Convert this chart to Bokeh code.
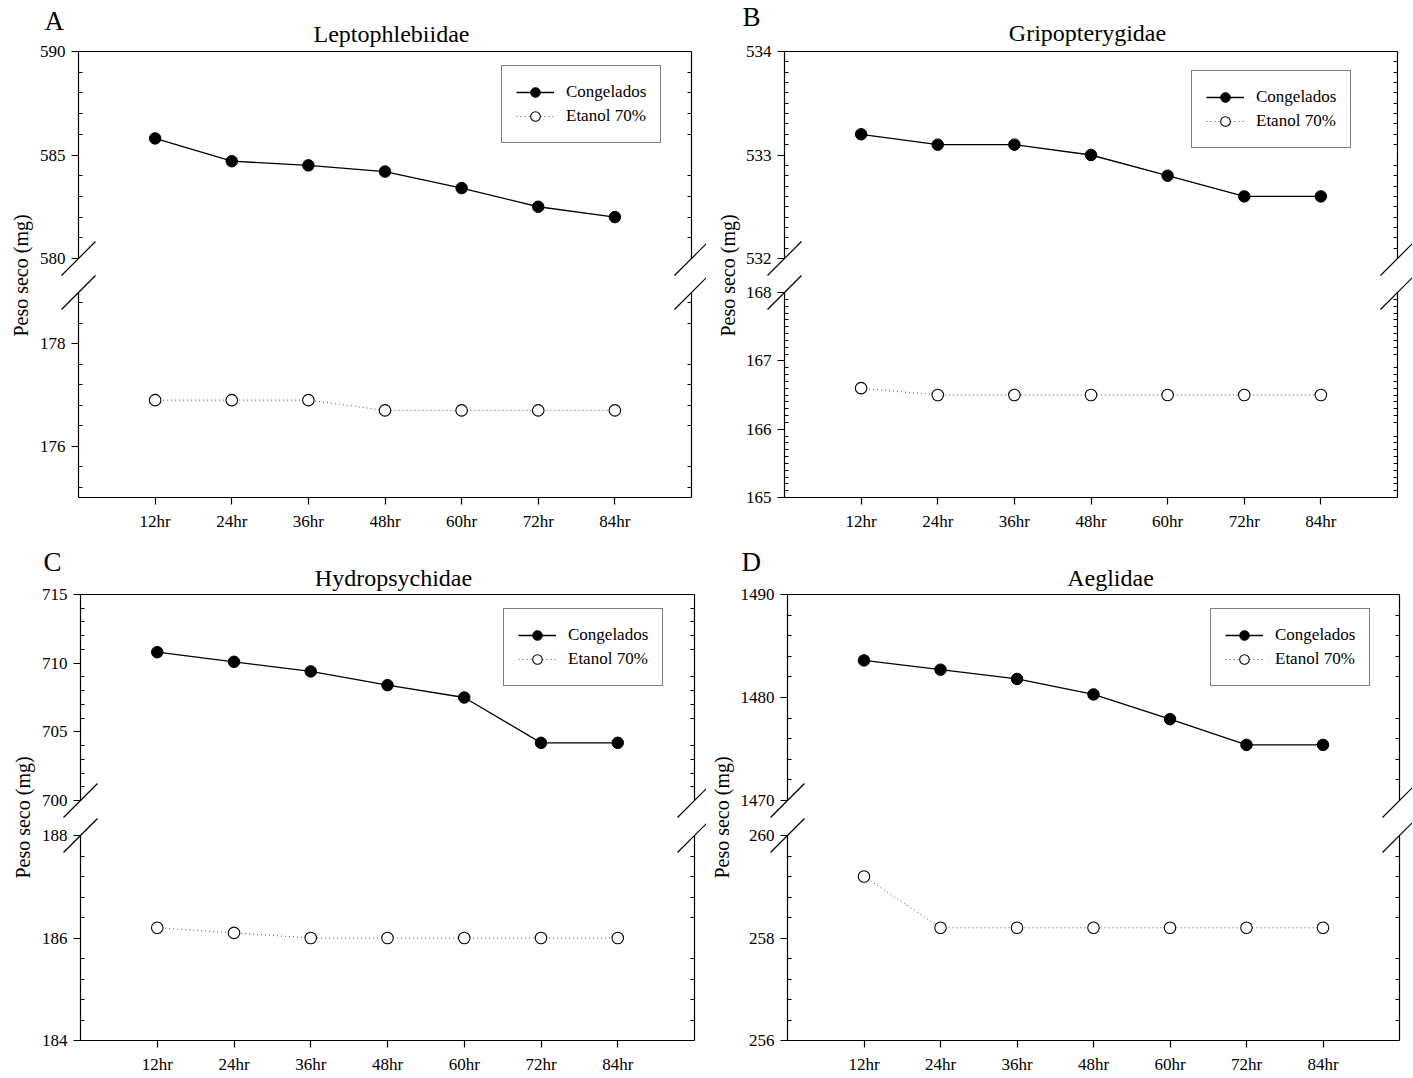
import numpy as np
from bokeh.plotting import figure
from bokeh.models import (Range1d, LinearAxis, FixedTicker, Legend, LegendItem, Label, Arrow)
from bokeh.layouts import row, column
from bokeh.embed import file_html
from bokeh.resources import INLINE

# ---------------- data ----------------
times = ["12hr", "24hr", "36hr", "48hr", "60hr", "72hr", "84hr"]
series_names = ["Congelados", "Etanol 70%"]
y_label = "Peso seco (mg)"

a_letter, a_title = "A", "Leptophlebiidae"
a_congelados = [585.8, 584.7, 584.5, 584.2, 583.4, 582.5, 582.0]
a_etanol = [176.9, 176.9, 176.9, 176.7, 176.7, 176.7, 176.7]
a_upper_lim, a_upper_ticks, a_upper_step = (580, 590), [580, 585, 590], 1
a_lower_lim, a_lower_ticks, a_lower_step = (175, 179), [176, 178], 0.4

b_letter, b_title = "B", "Gripopterygidae"
b_congelados = [533.2, 533.1, 533.1, 533.0, 532.8, 532.6, 532.6]
b_etanol = [166.6, 166.5, 166.5, 166.5, 166.5, 166.5, 166.5]
b_upper_lim, b_upper_ticks, b_upper_step = (532, 534), [532, 533, 534], 0.1
b_lower_lim, b_lower_ticks, b_lower_step = (165, 168), [165, 166, 167, 168], 0.1

c_letter, c_title = "C", "Hydropsychidae"
c_congelados = [710.8, 710.1, 709.4, 708.4, 707.5, 704.2, 704.2]
c_etanol = [186.2, 186.1, 186.0, 186.0, 186.0, 186.0, 186.0]
c_upper_lim, c_upper_ticks, c_upper_step = (700, 715), [700, 705, 710, 715], 1
c_lower_lim, c_lower_ticks, c_lower_step = (184, 188), [184, 186, 188], 0.4

d_letter, d_title = "D", "Aeglidae"
d_congelados = [1483.6, 1482.7, 1481.8, 1480.3, 1477.9, 1475.4, 1475.4]
d_etanol = [259.2, 258.2, 258.2, 258.2, 258.2, 258.2, 258.2]
d_upper_lim, d_upper_ticks, d_upper_step = (1470, 1490), [1470, 1480, 1490], 2
d_lower_lim, d_lower_ticks, d_lower_step = (256, 260), [256, 258, 260], 0.4

# ---------------- style ----------------
FONT = "Liberation Serif"
LW = 1.2
SL = 17   # half length of the break slashes (px)


def minors(lim, majors, step):
    base = majors[0]
    out = []
    for k in range(-300, 400):
        m = round(base + k * step, 4)
        if lim[0] - 1e-9 <= m <= lim[1] + 1e-9 and all(abs(m - t) > 1e-6 for t in majors):
            out.append(m)
    return out


def style_axis(ax):
    ax.axis_line_color = "black"
    ax.axis_line_width = LW
    ax.major_tick_line_color = "black"
    ax.major_tick_line_width = LW
    ax.minor_tick_line_color = "black"
    ax.minor_tick_line_width = 1
    ax.major_label_text_font = FONT
    ax.major_label_text_font_size = "17px"
    ax.major_label_text_color = "black"


def make_panel(letter, title, cong, etan,
               up_lim, up_ticks, up_step, lo_lim, lo_ticks, lo_step,
               W, H, axL, axR, up_top, up_bot, lo_top, lo_bot,
               title_xy, letter_xy, ylab_xy, leg_lb):
    n = len(times)
    xs = list(range(1, n + 1))
    xmax = n + 1
    kx = xmax / (axR - axL)
    ku = (up_lim[1] - up_lim[0]) / (up_bot - up_top)
    kl = (lo_lim[1] - lo_lim[0]) / (lo_bot - lo_top)

    def X(px):
        return (px - axL) * kx

    def YU(py):
        return up_lim[0] + (up_bot - py) * ku

    def YL(py):
        return lo_lim[0] + (lo_bot - py) * kl

    p = figure(width=W, height=H, x_range=Range1d(X(0), X(W)), y_range=Range1d(YL(H), YL(0)),
               x_axis_location=None, y_axis_location=None,
               toolbar_location=None, output_backend="svg", min_border=0)
    p.extra_y_ranges = {"upper": Range1d(YU(H), YU(0))}
    p.outline_line_color = None
    p.grid.visible = False
    p.background_fill_color = "white"
    p.border_fill_color = "white"

    # y axes of both segments (left with labels, right with inner minor ticks)
    for lim, majors, step, rname in [(up_lim, up_ticks, up_step, "upper"),
                                     (lo_lim, lo_ticks, lo_step, "default")]:
        mn = minors(lim, majors, step)
        la = LinearAxis(y_range_name=rname, fixed_location=0, bounds=lim,
                        ticker=FixedTicker(ticks=majors, minor_ticks=mn))
        style_axis(la)
        la.major_tick_out, la.major_tick_in = 7, 0
        la.minor_tick_out, la.minor_tick_in = 0, 4
        la.major_label_standoff = 6
        p.add_layout(la, "left")
        ra = LinearAxis(y_range_name=rname, fixed_location=xmax, bounds=lim,
                        ticker=FixedTicker(ticks=[], minor_ticks=mn))
        style_axis(ra)
        ra.major_tick_out, ra.major_tick_in = 0, 0
        ra.minor_tick_out, ra.minor_tick_in = 0, 4
        p.add_layout(ra, "right")

    # top frame line
    ta = LinearAxis(y_range_name="upper", fixed_location=up_lim[1], bounds=(0, xmax),
                    ticker=FixedTicker(ticks=[], minor_ticks=[]))
    style_axis(ta)
    ta.major_tick_out = ta.major_tick_in = ta.minor_tick_out = ta.minor_tick_in = 0
    p.add_layout(ta, "above")

    # x axis
    xa = LinearAxis(fixed_location=lo_lim[0], bounds=(0, xmax),
                    ticker=FixedTicker(ticks=xs, minor_ticks=[]),
                    major_label_overrides={x: t for x, t in zip(xs, times)})
    style_axis(xa)
    xa.major_tick_out, xa.major_tick_in = 7, 0
    xa.minor_tick_out = xa.minor_tick_in = 0
    xa.major_label_standoff = 7
    p.add_layout(xa, "below")

    # series
    l1 = p.line(xs, cong, y_range_name="upper", line_color="black", line_width=1.3)
    s1 = p.scatter(xs, cong, y_range_name="upper", marker="circle", size=11.5,
                   fill_color="black", line_color="black")
    l2 = p.line(xs, etan, line_color="#555555", line_width=1, line_dash="1 3")
    s2 = p.scatter(xs, etan, marker="circle", size=11.5, fill_color="white",
                   line_color="black", line_width=1.1)

    # axis break marks
    for xb in (0, xmax):
        p.add_layout(Arrow(end=None, y_range_name="upper",
                           x_start=xb - SL * kx, y_start=up_lim[0] - SL * ku,
                           x_end=xb + SL * kx, y_end=up_lim[0] + SL * ku,
                           line_color="black", line_width=LW))
        p.add_layout(Arrow(end=None,
                           x_start=xb - SL * kx, y_start=lo_lim[1] - SL * kl,
                           x_end=xb + SL * kx, y_end=lo_lim[1] + SL * kl,
                           line_color="black", line_width=LW))

    # texts (baseline offsets corrected for the renderer)
    p.add_layout(Label(x=X(title_xy[0]), y=YU(title_xy[1] - 10), y_range_name="upper", text=title,
                       text_align="center", text_baseline="alphabetic",
                       text_font=FONT, text_font_size="24px", text_color="black"))
    p.add_layout(Label(x=X(letter_xy[0]), y=YU(letter_xy[1] - 12), y_range_name="upper", text=letter,
                       text_align="left", text_baseline="alphabetic",
                       text_font=FONT, text_font_size="27px", text_color="black"))
    p.add_layout(Label(x=X(ylab_xy[0]), y=YL(ylab_xy[1]), text=y_label, angle=np.pi / 2,
                       text_align="center", text_baseline="middle",
                       text_font=FONT, text_font_size="20px", text_color="black"))

    legend = Legend(items=[LegendItem(label=series_names[0], renderers=[l1, s1]),
                           LegendItem(label=series_names[1], renderers=[l2, s2])],
                    location=(leg_lb[0], H - leg_lb[1]), margin=0, padding=14, spacing=-1,
                    glyph_width=38, glyph_height=24, label_height=20, label_standoff=12,
                    label_text_font=FONT, label_text_font_size="17px", label_text_color="black",
                    border_line_color="black", border_line_width=1,
                    background_fill_color="white", background_fill_alpha=1)
    p.add_layout(legend)
    return p


pa = make_panel(a_letter, a_title, a_congelados, a_etanol,
                a_upper_lim, a_upper_ticks, a_upper_step, a_lower_lim, a_lower_ticks, a_lower_step,
                706, 540, 78, 691, 51, 258, 292, 497,
                (391, 43), (44, 32), (20, 275), (501, 143))
pb = make_panel(b_letter, b_title, b_congelados, b_etanol,
                b_upper_lim, b_upper_ticks, b_upper_step, b_lower_lim, b_lower_ticks, b_lower_step,
                706, 540, 78, 691, 51, 258, 292, 497,
                (381, 42), (36, 28), (21, 275), (485, 148))
pc = make_panel(c_letter, c_title, c_congelados, c_etanol,
                c_upper_lim, c_upper_ticks, c_upper_step, c_lower_lim, c_lower_ticks, c_lower_step,
                706, 536, 80, 694, 54, 260, 295, 500,
                (393, 47), (43, 33), (22, 277), (503, 146))
pd = make_panel(d_letter, d_title, d_congelados, d_etanol,
                d_upper_lim, d_upper_ticks, d_upper_step, d_lower_lim, d_lower_ticks, d_lower_step,
                706, 536, 81, 693, 54, 260, 295, 500,
                (404, 47), (35, 33), (15, 277), (504, 146))

layout = column(row(pa, pb, spacing=0), row(pc, pd, spacing=0), spacing=0)

open("out.html", "w").write(file_html(layout, INLINE))
